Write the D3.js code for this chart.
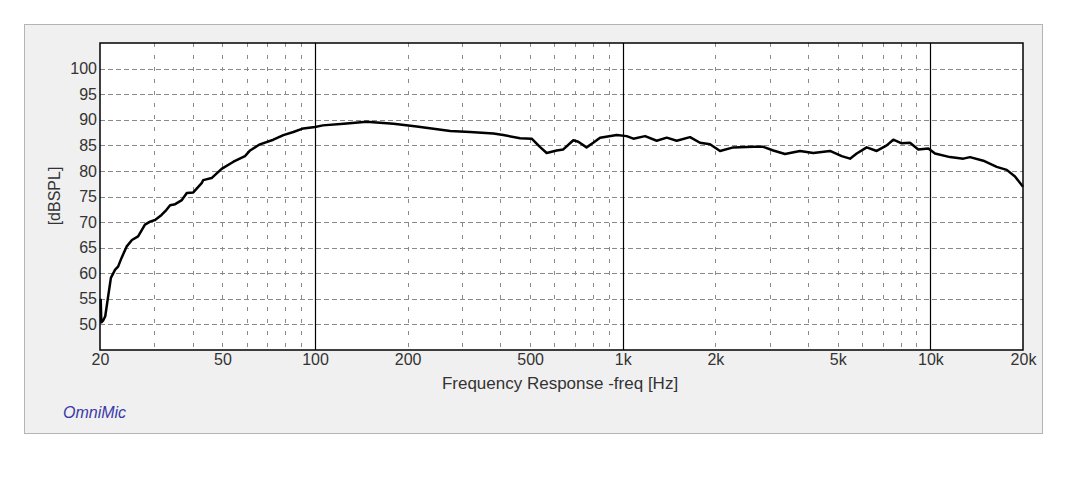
<!DOCTYPE html>
<html>
<head>
<meta charset="utf-8">
<script src="https://cdn.jsdelivr.net/npm/d3@7"></script>
<style>
  body { margin: 0; background: #fff; }
  svg text { font-family: "Liberation Sans", Arial, sans-serif; }
</style>
</head>
<body>
<script>

var freq = [20.1, 20.2, 20.5, 20.8, 21.2, 21.7, 22.4, 22.9, 23.5, 24.4,
  25.4, 26.6, 28.0, 29.1, 30.2, 31.7, 32.9, 33.8, 35.1, 36.9,
  38.3, 40.2, 42.8, 43.3, 46.1, 49.7, 54.3, 59.2, 61.5, 66.2,
  73.2, 78.9, 85.0, 91.6, 100, 106, 124, 147, 180, 214,
  275, 319, 380, 409, 464, 506, 538, 566, 610, 641,
  691, 717, 763, 802, 844, 956, 1030, 1083, 1182, 1290,
  1390, 1498, 1655, 1783, 1922, 2072, 2288, 2657, 2864, 3086,
  3368, 3768, 4164, 4718, 5150, 5480, 5762, 6210, 6692, 7212,
  7576, 8068, 8584, 9134, 9846, 10352, 11580, 12794, 13452, 14860,
  16428, 17704, 18838, 20000];
var spl = [55.0, 50.4, 50.8, 51.6, 55.0, 59.1, 60.7, 61.3, 63.0, 65.2,
  66.5, 67.2, 69.5, 70.1, 70.4, 71.4, 72.4, 73.3, 73.5, 74.3,
  75.7, 75.8, 77.6, 78.2, 78.6, 80.4, 81.8, 82.9, 84.0, 85.2,
  86.1, 87.0, 87.6, 88.3, 88.6, 88.9, 89.2, 89.6, 89.2, 88.7,
  87.8, 87.6, 87.3, 87.0, 86.4, 86.3, 84.7, 83.5, 84.0, 84.2,
  86.0, 85.7, 84.6, 85.5, 86.5, 87.0, 86.8, 86.3, 86.8, 85.9,
  86.5, 85.9, 86.6, 85.5, 85.2, 83.9, 84.6, 84.7, 84.7, 84.0,
  83.3, 83.9, 83.5, 83.9, 82.9, 82.4, 83.4, 84.6, 83.9, 85.0,
  86.1, 85.4, 85.5, 84.2, 84.4, 83.4, 82.7, 82.4, 82.7, 82.0,
  80.8, 80.2, 78.9, 76.9];

var yTicks = [50, 55, 60, 65, 70, 75, 80, 85, 90, 95, 100];
var xTicks = [20, 50, 100, 200, 500, 1000, 2000, 5000, 10000, 20000];
var xTickLabels = ["20", "50", "100", "200", "500", "1k", "2k", "5k", "10k", "20k"];
var decades = [100, 1000, 10000];
var minorFreqs = [30, 40, 50, 60, 70, 80, 90,
  200, 300, 400, 500, 600, 700, 800, 900,
  2000, 3000, 4000, 5000, 6000, 7000, 8000, 9000];

var W = 1080, H = 483;
var plotLeft = 100, plotRight = 1023, plotTop = 43, plotBottom = 350;

var svg = d3.select("body").append("svg")
    .attr("width", W)
    .attr("height", H);

// grey panel
svg.append("rect")
    .attr("x", 24.5).attr("y", 24.5)
    .attr("width", 1018).attr("height", 409)
    .attr("fill", "#f0f0f0")
    .attr("stroke", "#b4b4b4");

var x = d3.scaleLog().domain([20, 20000]).range([plotLeft, plotRight]);
var y = d3.scaleLinear().domain([45, 105]).range([plotBottom, plotTop]);

// plot area
svg.append("rect")
    .attr("x", plotLeft).attr("y", plotTop)
    .attr("width", plotRight - plotLeft).attr("height", plotBottom - plotTop)
    .attr("fill", "#fff");

// horizontal dashed grid
svg.append("g").selectAll("line")
    .data(yTicks)
  .join("line")
    .attr("x1", plotLeft).attr("x2", plotRight)
    .attr("y1", d => Math.round(y(d)) + 0.5)
    .attr("y2", d => Math.round(y(d)) + 0.5)
    .attr("stroke", "#8a8a8a")
    .attr("stroke-dasharray", "5,3");

// vertical dashed grid
svg.append("g").selectAll("line")
    .data(minorFreqs)
  .join("line")
    .attr("x1", d => Math.round(x(d)) + 0.5)
    .attr("x2", d => Math.round(x(d)) + 0.5)
    .attr("y1", plotTop).attr("y2", plotBottom)
    .attr("stroke", "#8a8a8a")
    .attr("stroke-dasharray", "4,8");

// solid decade lines
svg.append("g").selectAll("line")
    .data(decades)
  .join("line")
    .attr("x1", d => Math.round(x(d)) + 0.5)
    .attr("x2", d => Math.round(x(d)) + 0.5)
    .attr("y1", plotTop).attr("y2", plotBottom)
    .attr("stroke", "#000")
    .attr("stroke-width", 1.2);

// frame
svg.append("rect")
    .attr("x", plotLeft).attr("y", plotTop)
    .attr("width", plotRight - plotLeft).attr("height", plotBottom - plotTop)
    .attr("fill", "none")
    .attr("stroke", "#000")
    .attr("stroke-width", 1.5);

// axes (labels only)
var yAxis = svg.append("g")
    .attr("transform", "translate(" + (plotLeft - 3) + ",0)")
    .call(d3.axisLeft(y).tickValues(yTicks).tickSize(0).tickPadding(0));
var xAxis = svg.append("g")
    .attr("transform", "translate(0," + plotBottom + ")")
    .call(d3.axisBottom(x).tickValues(xTicks).tickSize(0).tickPadding(4)
      .tickFormat((d, i) => xTickLabels[i]));

[yAxis, xAxis].forEach(function(g) {
  g.select(".domain").remove();
  g.selectAll("text")
      .attr("fill", "#333")
      .style("font-size", "16px")
      .style("font-family", "'Liberation Sans', Arial, sans-serif");
});

// response curve
var points = freq.map((f, i) => ({f: f, v: spl[i]}));
var line = d3.line()
    .x(d => x(d.f))
    .y(d => y(d.v));

svg.append("path")
    .datum(points)
    .attr("d", line)
    .attr("fill", "none")
    .attr("stroke", "#000")
    .attr("stroke-width", 2.5)
    .attr("stroke-linejoin", "round");

// titles
svg.append("text")
    .attr("x", 560).attr("y", 389)
    .attr("text-anchor", "middle")
    .attr("fill", "#333")
    .style("font-size", "17px")
    .text("Frequency Response -freq [Hz]");

svg.append("text")
    .attr("transform", "translate(60,196) rotate(-90)")
    .attr("text-anchor", "middle")
    .attr("fill", "#333")
    .style("font-size", "16px")
    .text("[dBSPL]");

svg.append("text")
    .attr("x", 63).attr("y", 418)
    .attr("fill", "#3a3aa8")
    .style("font-size", "16px")
    .style("font-style", "italic")
    .text("OmniMic");

</script>
</body>
</html>
